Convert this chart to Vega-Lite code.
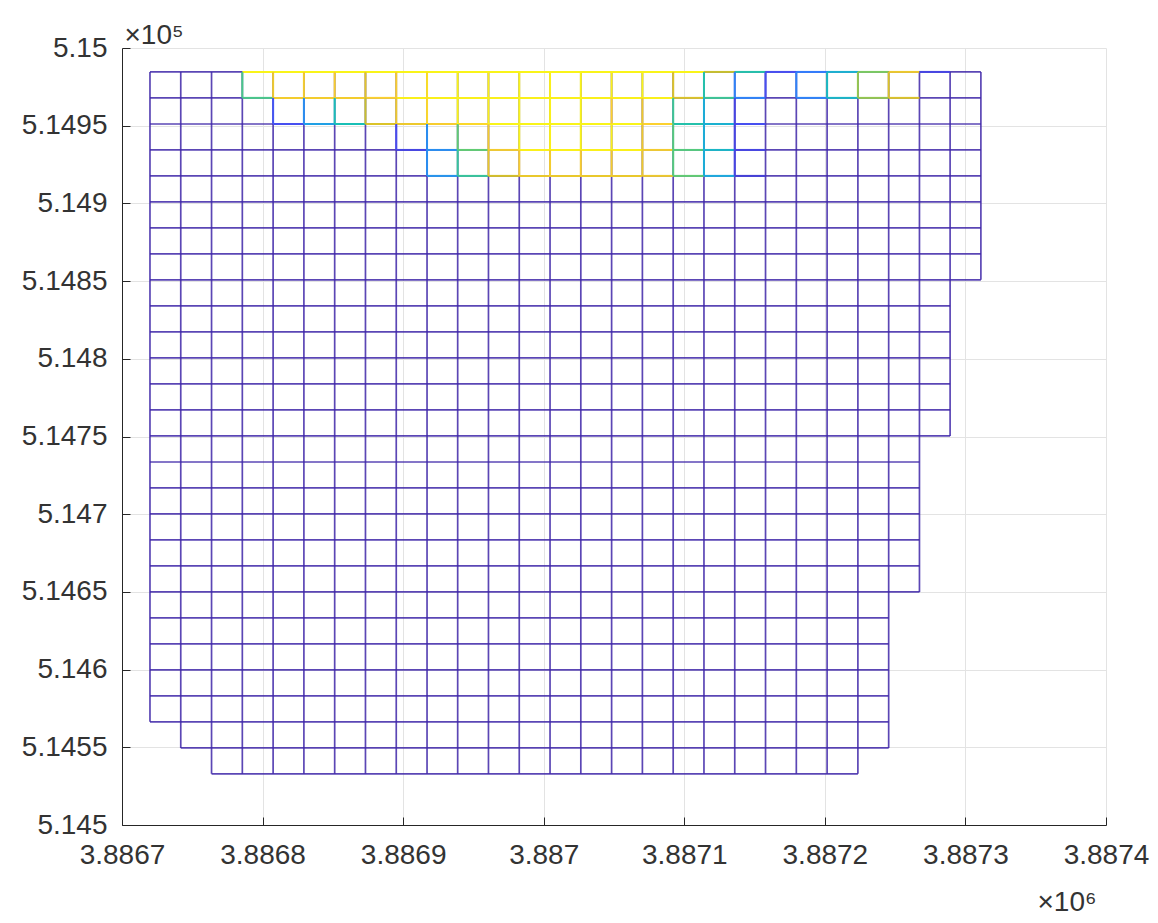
{
  "$schema": "https://vega.github.io/schema/vega-lite/v6.json",
  "width": 984,
  "height": 777,
  "autosize": {"type": "none"},
  "padding": {"left": 122, "top": 48, "right": 52, "bottom": 98},
  "background": "white",
  "config": {
    "view": {"stroke": null},
    "axis": {
      "labelFont": "Liberation Sans",
      "labelFontSize": 28,
      "labelColor": "#333333",
      "labelFlush": false,
      "titleFont": "Liberation Sans",
      "titleFontSize": 28,
      "titleFontWeight": "normal",
      "titleColor": "#333333",
      "domainColor": "#262626",
      "domainWidth": 1,
      "tickColor": "#262626",
      "tickSize": -8,
      "gridColor": "#e3e3e3",
      "gridWidth": 1
    }
  },
  "datasets": {
    "hb": [
      {"y": 514984.6, "x": 3886719.9, "x2": 3887311.0, "z": 0},
      {"y": 514967.9, "x": 3886719.9, "x2": 3887311.0, "z": 0},
      {"y": 514951.1, "x": 3886719.9, "x2": 3887311.0, "z": 0},
      {"y": 514934.4, "x": 3886719.9, "x2": 3887311.0, "z": 0},
      {"y": 514917.7, "x": 3886719.9, "x2": 3887311.0, "z": 0},
      {"y": 514901.0, "x": 3886719.9, "x2": 3887311.0, "z": 0},
      {"y": 514884.2, "x": 3886719.9, "x2": 3887311.0, "z": 0},
      {"y": 514867.5, "x": 3886719.9, "x2": 3887311.0, "z": 0},
      {"y": 514850.8, "x": 3886719.9, "x2": 3887311.0, "z": 0},
      {"y": 514834.0, "x": 3886719.9, "x2": 3887289.1, "z": 0},
      {"y": 514817.3, "x": 3886719.9, "x2": 3887289.1, "z": 0},
      {"y": 514800.6, "x": 3886719.9, "x2": 3887289.1, "z": 0},
      {"y": 514783.8, "x": 3886719.9, "x2": 3887289.1, "z": 0},
      {"y": 514767.1, "x": 3886719.9, "x2": 3887289.1, "z": 0},
      {"y": 514750.4, "x": 3886719.9, "x2": 3887289.1, "z": 0},
      {"y": 514733.6, "x": 3886719.9, "x2": 3887267.3, "z": 0},
      {"y": 514716.9, "x": 3886719.9, "x2": 3887267.3, "z": 0},
      {"y": 514700.2, "x": 3886719.9, "x2": 3887267.3, "z": 0},
      {"y": 514683.5, "x": 3886719.9, "x2": 3887267.3, "z": 0},
      {"y": 514666.7, "x": 3886719.9, "x2": 3887267.3, "z": 0},
      {"y": 514650.0, "x": 3886719.9, "x2": 3887267.3, "z": 0},
      {"y": 514633.3, "x": 3886719.9, "x2": 3887245.4, "z": 0},
      {"y": 514616.5, "x": 3886719.9, "x2": 3887245.4, "z": 0},
      {"y": 514599.8, "x": 3886719.9, "x2": 3887245.4, "z": 0},
      {"y": 514583.1, "x": 3886719.9, "x2": 3887245.4, "z": 0},
      {"y": 514566.4, "x": 3886719.9, "x2": 3887245.4, "z": 0},
      {"y": 514549.6, "x": 3886741.8, "x2": 3887245.4, "z": 0},
      {"y": 514532.9, "x": 3886763.7, "x2": 3887223.5, "z": 0}
    ],
    "vb": [
      {"x": 3886719.9, "y": 514984.6, "y2": 514566.4, "z": 0},
      {"x": 3886741.8, "y": 514984.6, "y2": 514549.6, "z": 0},
      {"x": 3886763.7, "y": 514984.6, "y2": 514532.9, "z": 0},
      {"x": 3886785.6, "y": 514984.6, "y2": 514532.9, "z": 0},
      {"x": 3886807.5, "y": 514984.6, "y2": 514532.9, "z": 0},
      {"x": 3886829.4, "y": 514984.6, "y2": 514532.9, "z": 0},
      {"x": 3886851.3, "y": 514984.6, "y2": 514532.9, "z": 0},
      {"x": 3886873.2, "y": 514984.6, "y2": 514532.9, "z": 0},
      {"x": 3886895.1, "y": 514984.6, "y2": 514532.9, "z": 0},
      {"x": 3886917.0, "y": 514984.6, "y2": 514532.9, "z": 0},
      {"x": 3886938.8, "y": 514984.6, "y2": 514532.9, "z": 0},
      {"x": 3886960.7, "y": 514984.6, "y2": 514532.9, "z": 0},
      {"x": 3886982.6, "y": 514984.6, "y2": 514532.9, "z": 0},
      {"x": 3887004.5, "y": 514984.6, "y2": 514532.9, "z": 0},
      {"x": 3887026.4, "y": 514984.6, "y2": 514532.9, "z": 0},
      {"x": 3887048.3, "y": 514984.6, "y2": 514532.9, "z": 0},
      {"x": 3887070.2, "y": 514984.6, "y2": 514532.9, "z": 0},
      {"x": 3887092.1, "y": 514984.6, "y2": 514532.9, "z": 0},
      {"x": 3887114.0, "y": 514984.6, "y2": 514532.9, "z": 0},
      {"x": 3887135.9, "y": 514984.6, "y2": 514532.9, "z": 0},
      {"x": 3887157.8, "y": 514984.6, "y2": 514532.9, "z": 0},
      {"x": 3887179.7, "y": 514984.6, "y2": 514532.9, "z": 0},
      {"x": 3887201.6, "y": 514984.6, "y2": 514532.9, "z": 0},
      {"x": 3887223.5, "y": 514984.6, "y2": 514532.9, "z": 0},
      {"x": 3887245.4, "y": 514984.6, "y2": 514549.6, "z": 0},
      {"x": 3887267.3, "y": 514984.6, "y2": 514650.0, "z": 0},
      {"x": 3887289.1, "y": 514984.6, "y2": 514750.4, "z": 0},
      {"x": 3887311.0, "y": 514984.6, "y2": 514850.8, "z": 0}
    ],
    "hc": [
      {"y": 514984.6, "x": 3886785.6, "x2": 3887114.0, "z": 0.98},
      {"y": 514984.6, "x": 3887114.0, "x2": 3887135.9, "z": 0.74},
      {"y": 514984.6, "x": 3887135.9, "x2": 3887157.8, "z": 0.52},
      {"y": 514984.6, "x": 3887157.8, "x2": 3887179.7, "z": 0.13},
      {"y": 514984.6, "x": 3887179.7, "x2": 3887201.6, "z": 0.25},
      {"y": 514984.6, "x": 3887201.6, "x2": 3887223.5, "z": 0.42},
      {"y": 514984.6, "x": 3887223.5, "x2": 3887245.4, "z": 0.65},
      {"y": 514984.6, "x": 3887245.4, "x2": 3887267.3, "z": 0.83},
      {"y": 514984.6, "x": 3887267.3, "x2": 3887289.1, "z": 0.1},
      {"y": 514967.9, "x": 3886785.6, "x2": 3886807.5, "z": 0.58},
      {"y": 514967.9, "x": 3886807.5, "x2": 3886873.2, "z": 0.85},
      {"y": 514967.9, "x": 3886873.2, "x2": 3886895.1, "z": 0.88},
      {"y": 514967.9, "x": 3886895.1, "x2": 3887092.1, "z": 0.97},
      {"y": 514967.9, "x": 3887092.1, "x2": 3887114.0, "z": 0.78},
      {"y": 514967.9, "x": 3887114.0, "x2": 3887135.9, "z": 0.56},
      {"y": 514967.9, "x": 3887135.9, "x2": 3887157.8, "z": 0.27},
      {"y": 514967.9, "x": 3887179.7, "x2": 3887201.6, "z": 0.27},
      {"y": 514967.9, "x": 3887201.6, "x2": 3887223.5, "z": 0.45},
      {"y": 514967.9, "x": 3887223.5, "x2": 3887245.4, "z": 0.68},
      {"y": 514967.9, "x": 3887245.4, "x2": 3887267.3, "z": 0.78},
      {"y": 514951.1, "x": 3886807.5, "x2": 3886829.4, "z": 0.13},
      {"y": 514951.1, "x": 3886829.4, "x2": 3886851.3, "z": 0.35},
      {"y": 514951.1, "x": 3886851.3, "x2": 3886873.2, "z": 0.5},
      {"y": 514951.1, "x": 3886873.2, "x2": 3886895.1, "z": 0.78},
      {"y": 514951.1, "x": 3886895.1, "x2": 3886917.0, "z": 0.83},
      {"y": 514951.1, "x": 3886917.0, "x2": 3886938.8, "z": 0.86},
      {"y": 514951.1, "x": 3886938.8, "x2": 3886960.7, "z": 0.9},
      {"y": 514951.1, "x": 3886960.7, "x2": 3887070.2, "z": 0.98},
      {"y": 514951.1, "x": 3887070.2, "x2": 3887092.1, "z": 0.88},
      {"y": 514951.1, "x": 3887092.1, "x2": 3887114.0, "z": 0.52},
      {"y": 514951.1, "x": 3887114.0, "x2": 3887135.9, "z": 0.42},
      {"y": 514951.1, "x": 3887135.9, "x2": 3887157.8, "z": 0.13},
      {"y": 514934.4, "x": 3886895.1, "x2": 3886917.0, "z": 0.1},
      {"y": 514934.4, "x": 3886917.0, "x2": 3886938.8, "z": 0.3},
      {"y": 514934.4, "x": 3886938.8, "x2": 3886960.7, "z": 0.62},
      {"y": 514934.4, "x": 3886960.7, "x2": 3886982.6, "z": 0.85},
      {"y": 514934.4, "x": 3886982.6, "x2": 3887070.2, "z": 0.97},
      {"y": 514934.4, "x": 3887070.2, "x2": 3887092.1, "z": 0.85},
      {"y": 514934.4, "x": 3887092.1, "x2": 3887114.0, "z": 0.6},
      {"y": 514934.4, "x": 3887114.0, "x2": 3887135.9, "z": 0.45},
      {"y": 514934.4, "x": 3887135.9, "x2": 3887157.8, "z": 0.1},
      {"y": 514917.7, "x": 3886917.0, "x2": 3886938.8, "z": 0.32},
      {"y": 514917.7, "x": 3886938.8, "x2": 3886960.7, "z": 0.55},
      {"y": 514917.7, "x": 3886960.7, "x2": 3886982.6, "z": 0.76},
      {"y": 514917.7, "x": 3886982.6, "x2": 3887070.2, "z": 0.82},
      {"y": 514917.7, "x": 3887070.2, "x2": 3887092.1, "z": 0.83},
      {"y": 514917.7, "x": 3887092.1, "x2": 3887114.0, "z": 0.62},
      {"y": 514917.7, "x": 3887114.0, "x2": 3887135.9, "z": 0.38},
      {"y": 514917.7, "x": 3887135.9, "x2": 3887157.8, "z": 0.08}
    ],
    "vc": [
      {"x": 3886785.6, "y": 514984.6, "y2": 514967.9, "z": 0.58},
      {"x": 3886807.5, "y": 514984.6, "y2": 514967.9, "z": 0.83},
      {"x": 3886807.5, "y": 514967.9, "y2": 514951.1, "z": 0.15},
      {"x": 3886829.4, "y": 514984.6, "y2": 514967.9, "z": 0.85},
      {"x": 3886829.4, "y": 514967.9, "y2": 514951.1, "z": 0.3},
      {"x": 3886851.3, "y": 514984.6, "y2": 514967.9, "z": 0.86},
      {"x": 3886851.3, "y": 514967.9, "y2": 514951.1, "z": 0.5},
      {"x": 3886873.2, "y": 514984.6, "y2": 514967.9, "z": 0.8},
      {"x": 3886873.2, "y": 514967.9, "y2": 514951.1, "z": 0.74},
      {"x": 3886895.1, "y": 514984.6, "y2": 514967.9, "z": 0.86},
      {"x": 3886895.1, "y": 514967.9, "y2": 514951.1, "z": 0.83},
      {"x": 3886895.1, "y": 514951.1, "y2": 514934.4, "z": 0.12},
      {"x": 3886917.0, "y": 514984.6, "y2": 514967.9, "z": 0.92},
      {"x": 3886917.0, "y": 514967.9, "y2": 514951.1, "z": 0.9},
      {"x": 3886917.0, "y": 514951.1, "y2": 514917.7, "z": 0.3},
      {"x": 3886938.8, "y": 514984.6, "y2": 514951.1, "z": 0.98},
      {"x": 3886938.8, "y": 514951.1, "y2": 514934.4, "z": 0.62},
      {"x": 3886938.8, "y": 514934.4, "y2": 514917.7, "z": 0.55},
      {"x": 3886960.7, "y": 514984.6, "y2": 514951.1, "z": 0.97},
      {"x": 3886960.7, "y": 514951.1, "y2": 514934.4, "z": 0.85},
      {"x": 3886960.7, "y": 514934.4, "y2": 514917.7, "z": 0.82},
      {"x": 3886982.6, "y": 514984.6, "y2": 514934.4, "z": 0.98},
      {"x": 3886982.6, "y": 514934.4, "y2": 514917.7, "z": 0.86},
      {"x": 3887004.5, "y": 514984.6, "y2": 514934.4, "z": 0.97},
      {"x": 3887004.5, "y": 514934.4, "y2": 514917.7, "z": 0.85},
      {"x": 3887026.4, "y": 514984.6, "y2": 514934.4, "z": 0.98},
      {"x": 3887026.4, "y": 514934.4, "y2": 514917.7, "z": 0.86},
      {"x": 3887048.3, "y": 514984.6, "y2": 514967.9, "z": 0.97},
      {"x": 3887048.3, "y": 514967.9, "y2": 514951.1, "z": 0.88},
      {"x": 3887048.3, "y": 514951.1, "y2": 514934.4, "z": 0.97},
      {"x": 3887048.3, "y": 514934.4, "y2": 514917.7, "z": 0.85},
      {"x": 3887070.2, "y": 514984.6, "y2": 514967.9, "z": 0.98},
      {"x": 3887070.2, "y": 514967.9, "y2": 514917.7, "z": 0.83},
      {"x": 3887092.1, "y": 514984.6, "y2": 514967.9, "z": 0.78},
      {"x": 3887092.1, "y": 514967.9, "y2": 514951.1, "z": 0.56},
      {"x": 3887092.1, "y": 514951.1, "y2": 514917.7, "z": 0.6},
      {"x": 3887114.0, "y": 514984.6, "y2": 514967.9, "z": 0.52},
      {"x": 3887114.0, "y": 514967.9, "y2": 514917.7, "z": 0.4},
      {"x": 3887135.9, "y": 514984.6, "y2": 514967.9, "z": 0.27},
      {"x": 3887135.9, "y": 514967.9, "y2": 514917.7, "z": 0.1},
      {"x": 3887157.8, "y": 514984.6, "y2": 514967.9, "z": 0.13},
      {"x": 3887179.7, "y": 514984.6, "y2": 514967.9, "z": 0.27},
      {"x": 3887201.6, "y": 514984.6, "y2": 514967.9, "z": 0.47},
      {"x": 3887223.5, "y": 514984.6, "y2": 514967.9, "z": 0.68},
      {"x": 3887245.4, "y": 514984.6, "y2": 514967.9, "z": 0.78}
    ]
  },
  "encoding": {
    "x": {
      "field": "x",
      "type": "quantitative",
      "scale": {"domain": [3886700, 3887400], "nice": false, "zero": false},
      "axis": {
        "values": [3886700, 3886800, 3886900, 3887000, 3887100, 3887200, 3887300, 3887400],
        "labelExpr": "format(datum.value / 1000000, '.5~g')",
        "labelPadding": 24,
        "title": "×10⁶",
        "titleAngle": 0,
        "titleAlign": "left",
        "titleBaseline": "alphabetic",
        "titleX": 915,
        "titleY": 85,
        "grid": true
      }
    },
    "y": {
      "field": "y",
      "type": "quantitative",
      "scale": {"domain": [514500, 515000], "nice": false, "zero": false},
      "axis": {
        "values": [514500, 514550, 514600, 514650, 514700, 514750, 514800, 514850, 514900, 514950, 515000],
        "labelExpr": "format(datum.value / 100000, '.5~g')",
        "labelPadding": 23,
        "title": "×10⁵",
        "titleAngle": 0,
        "titleAlign": "left",
        "titleBaseline": "alphabetic",
        "titleX": 2,
        "titleY": -5,
        "grid": true
      }
    },
    "color": {
      "field": "z",
      "type": "quantitative",
      "scale": {
        "domain": [0, 0.125, 0.25, 0.375, 0.5, 0.625, 0.75, 0.875, 1],
        "range": ["#3E26A8", "#484DF0", "#327CFC", "#1CA9DF", "#19BFB6", "#64CD6F", "#D1BF27", "#FCCF30", "#F9FB15"],
        "interpolate": "rgb"
      },
      "legend": null
    }
  },
  "layer": [
    {"data": {"name": "hb"}, "mark": {"type": "rule", "strokeWidth": 1.7, "opacity": 0.85}, "encoding": {"x2": {"field": "x2"}}},
    {"data": {"name": "vb"}, "mark": {"type": "rule", "strokeWidth": 1.7, "opacity": 0.85}, "encoding": {"y2": {"field": "y2"}}},
    {"data": {"name": "hc"}, "mark": {"type": "rule", "strokeWidth": 2, "opacity": 1}, "encoding": {"x2": {"field": "x2"}}},
    {"data": {"name": "vc"}, "mark": {"type": "rule", "strokeWidth": 2, "opacity": 1}, "encoding": {"y2": {"field": "y2"}}}
  ]
}
